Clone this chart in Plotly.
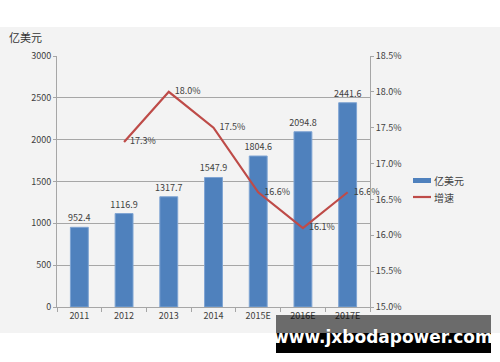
import plotly.graph_objects as go

years = ["2011", "2012", "2013", "2014", "2015E", "2016E", "2017E"]
revenue = [952.4, 1116.9, 1317.7, 1547.9, 1804.6, 2094.8, 2441.6]
growth = [None, 17.3, 18.0, 17.5, 16.6, 16.1, 16.6]
growth_labels = ["" if g is None else f"\u00a0\u00a0\u00a0{g:.1f}%" for g in growth]
right_ticks = [15.0, 15.5, 16.0, 16.5, 17.0, 17.5, 18.0, 18.5]

txt = "#404040"
font = "Noto Sans CJK SC, DejaVu Sans, sans-serif"
L, R, T, B = 57, 130, 56, 55
PW, PH = 500 - L - R, 362 - T - B


def px(x):
    return (x - L) / PW


def py(y):
    return (362 - B - y) / PH


fig = go.Figure()
fig.add_trace(go.Bar(
    x=years, y=revenue, name="亿美元",
    marker=dict(color="#4f81bd", line=dict(color="#7fa4d3", width=1)),
    width=0.4,
    text=[f"{v:.1f}" for v in revenue], textposition="outside",
    textfont=dict(size=9, color=txt), cliponaxis=False, constraintext="none",
    showlegend=False,
))
fig.add_trace(go.Scatter(
    x=years, y=growth, name="增速", yaxis="y2", mode="lines+text",
    line=dict(color="#be4b48", width=2.2),
    text=growth_labels, textposition="middle right",
    textfont=dict(size=9, color=txt), cliponaxis=False, showlegend=False,
))

fig.update_layout(
    width=500, height=362,
    margin=dict(l=L, r=R, t=T, b=B, autoexpand=False),
    paper_bgcolor="white", plot_bgcolor="#f3f3f3",
    font=dict(family=font, size=9, color=txt),
    showlegend=False,
    xaxis=dict(type="category", showgrid=False, showline=True, linecolor="#a6a6a6",
               ticks="outside", tickson="boundaries", ticklen=4, tickcolor="#a6a6a6",
               tickfont=dict(size=9, color=txt), automargin=False),
    yaxis=dict(range=[0, 3000], dtick=500, showgrid=True, gridcolor="#a6a6a6", gridwidth=1,
               showline=True, linecolor="#a6a6a6", ticks="outside", ticklen=3,
               tickcolor="#a6a6a6", zeroline=False, tickfont=dict(size=9, color=txt),
               automargin=False),
    yaxis2=dict(range=[15.0, 18.5], overlaying="y", side="right", tickvals=right_ticks,
                ticktext=[f"{v:.1f}%" for v in right_ticks], showgrid=False,
                showline=True, linecolor="#a6a6a6", ticks="outside", ticklen=3,
                tickcolor="#a6a6a6", zeroline=False, tickfont=dict(size=9, color=txt),
                automargin=False),
    shapes=[
        dict(type="rect", xref="paper", yref="paper", x0=px(0), x1=px(500), y0=py(333), y1=py(27),
             fillcolor="#f3f3f3", line=dict(width=0), layer="below"),
        # custom legend
        dict(type="rect", xref="paper", yref="paper", x0=px(413), x1=px(431), y0=py(183), y1=py(178),
             fillcolor="#4f81bd", line=dict(width=0), layer="above"),
        dict(type="line", xref="paper", yref="paper", x0=px(413), x1=px(431), y0=py(197), y1=py(197),
             line=dict(color="#be4b48", width=2.2), layer="above"),
        # watermark box
        dict(type="rect", xref="paper", yref="paper", x0=px(276), x1=px(491),
             y0=py(333), y1=py(315), fillcolor="rgba(0,0,0,0.56)",
             line=dict(width=0), layer="above"),
        dict(type="rect", xref="paper", yref="paper", x0=px(276), x1=px(491),
             y0=py(353), y1=py(333), fillcolor="black",
             line=dict(width=0), layer="above"),
    ],
    annotations=[
        dict(text="亿美元", xref="paper", yref="paper", x=px(7), y=py(37),
             xanchor="left", yanchor="middle", showarrow=False,
             font=dict(size=11, color="#333333", family=font)),
        dict(text="亿美元", xref="paper", yref="paper", x=px(432), y=py(180.5),
             xanchor="left", yanchor="middle", showarrow=False,
             font=dict(size=10, color="#404040", family=font)),
        dict(text="增速", xref="paper", yref="paper", x=px(432), y=py(197),
             xanchor="left", yanchor="middle", showarrow=False,
             font=dict(size=10, color="#404040", family=font)),
        dict(text="<b>www.jxbodapower.com</b>", xref="paper", yref="paper",
             x=px(383), y=py(337), xanchor="center", yanchor="middle",
             showarrow=False, font=dict(size=17, color="white", family="DejaVu Sans, sans-serif")),
    ],
)

fig.write_html("out.html", config={"displayModeBar": False},
               post_script="document.body.style.margin='0px';")
